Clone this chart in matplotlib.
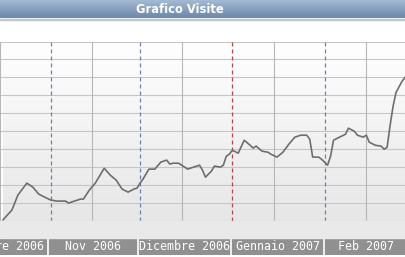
import numpy as np
import matplotlib
matplotlib.use("Agg")
import matplotlib.pyplot as plt
from matplotlib.patches import Rectangle

# giorni dal 1 novembre 2006, visite
days = [-16, -13, -11, -8, -6, -4, -2, 0, 2, 5, 6, 8, 10, 11, 13, 15, 18, 20,
        22, 24, 26, 28, 29, 30, 31, 33, 35, 37, 39, 40, 41, 43, 45, 46, 48, 50,
        51, 52, 54, 55, 57, 58, 59, 60, 61, 63, 65, 67, 68, 69, 71, 73, 74, 76,
        78, 80, 82, 84, 86, 87, 88, 90, 91, 93, 94, 95, 97, 99, 100, 102, 103,
        105, 106, 107, 109, 111, 112, 113, 114, 115, 116, 118, 119]
visits = [0.6, 6.1, 14.4, 21.1, 18.9, 15.0, 13.3, 11.7, 11.1, 11.1, 10.0, 11.1,
          12.2, 12.2, 17.2, 21.1, 29.4, 25.6, 22.8, 17.8, 16.1, 17.8, 18.3, 21.0,
          23.3, 28.9, 28.9, 32.8, 33.9, 31.7, 32.2, 32.2, 30.0, 28.9, 30.0, 31.1,
          28.3, 24.4, 27.8, 30.6, 30.0, 31.1, 36.1, 37.2, 39.4, 37.8, 45.0, 42.2,
          40.6, 41.7, 38.9, 38.3, 37.2, 35.6, 38.3, 42.8, 46.7, 47.8, 47.8, 45.6,
          35.6, 35.6, 34.4, 31.1, 36.1, 45.0, 46.7, 48.3, 51.7, 50.0, 47.8, 46.7,
          47.8, 43.9, 42.2, 41.7, 40.0, 41.1, 53.3, 63.9, 71.7, 77.8, 80.0]

# inizio mese e meta mese (giorni dal 1 novembre)
month_starts = [-31, 0, 30, 61, 92, 120]
month_names = ["Ottobre 2006", "Nov 2006", "Dicembre 2006", "Gennaio 2007", "Feb 2007"]
mid_days = [-17, 14, 44, 75, 106]
tick_days = [-17, 0, 14, 30, 44, 61, 75, 92, 106]
tick_labels = ["15", "1", "15", "1", "15", "1", "15", "1", "15"]

W, H = 405, 257
fig = plt.figure(figsize=(W / 100, H / 100), dpi=100)
mono = "DejaVu Sans Mono"

def fy(px):
    return 1 - px / H

# barra del titolo
tax = fig.add_axes([0, fy(18.5), 1, 18.5 / H])
grad = np.linspace(0, 1, 64).reshape(-1, 1)
top = np.array([0.66, 0.74, 0.84])
bot = np.array([0.42, 0.53, 0.67])
img = top + (bot - top) * grad[:, :, None]
tax.imshow(img, aspect="auto", extent=[0, 1, 0, 1])
tax.set_axis_off()
fig.text(180 / W, fy(9.5), "Grafico Visite", color="white", fontsize=8.3,
         fontweight="bold", ha="center", va="center")
fig.patches.append(Rectangle((0, fy(20)), 1, 1.2 / H, transform=fig.transFigure,
                             color="#bcc6d2", zorder=5))

# zona etichette
fig.patches.append(Rectangle((0, fy(238)), 1, 17 / H, transform=fig.transFigure,
                             color="#e9e9e9", zorder=0))
ax = fig.add_axes([0, fy(221), 1, (221 - 41.5) / H])
x0, x1 = -16, 119
bg = np.linspace(1, 0, 64).reshape(-1, 1)
g = 0.905 + (1 - 0.905) * bg
ax.imshow(np.dstack([g, g, g]), aspect="auto", extent=[x0, x1, 0, 100], zorder=0)
ax.set_xlim(x0, x1)
ax.set_ylim(0, 100)

for v in range(10, 101, 10):
    ax.axhline(v, color="#c6c6c6", lw=0.8, zorder=1)
ax.axhline(0, color="#b8b8b8", lw=0.8, zorder=1)
for d in mid_days:
    ax.axvline(d, color="#b6b6b6", lw=0.8, zorder=1)
for d in month_starts[1:5]:
    c = "#b04848" if d == 61 else "#7282ad"
    ax.axvline(d, color=c, lw=0.9, ls=(0, (3.2, 2.4)), zorder=2)

ax.plot(days, visits, color="#6e6e6e", lw=1.2, zorder=3)

ax.set_xticks(tick_days)
ax.set_xticklabels(tick_labels, fontsize=7.8, family=mono, color="#444444")
ax.get_xticklabels()[0].set_color("#c03030")
ax.tick_params(axis="x", length=0, pad=4.5)
ax.set_yticks([])
for s in ax.spines.values():
    s.set_visible(False)

# banda dei mesi
bax = fig.add_axes([0, fy(255), 1, 17 / H])
bax.set_xlim(x0, x1)
bax.set_ylim(0, 1)
bax.set_facecolor("#909090")
for d in month_starts[1:5]:
    bax.axvline(d, color="white", lw=1.2)
for i, name in enumerate(month_names):
    cx = (month_starts[i] + month_starts[i + 1]) / 2
    bax.text(cx, 0.5, name, color="white", fontsize=8.4, family=mono,
             ha="center", va="center", clip_on=True)
bax.set_xticks([])
bax.set_yticks([])
for s in bax.spines.values():
    s.set_visible(False)

fig.savefig("out.png", dpi=100)
